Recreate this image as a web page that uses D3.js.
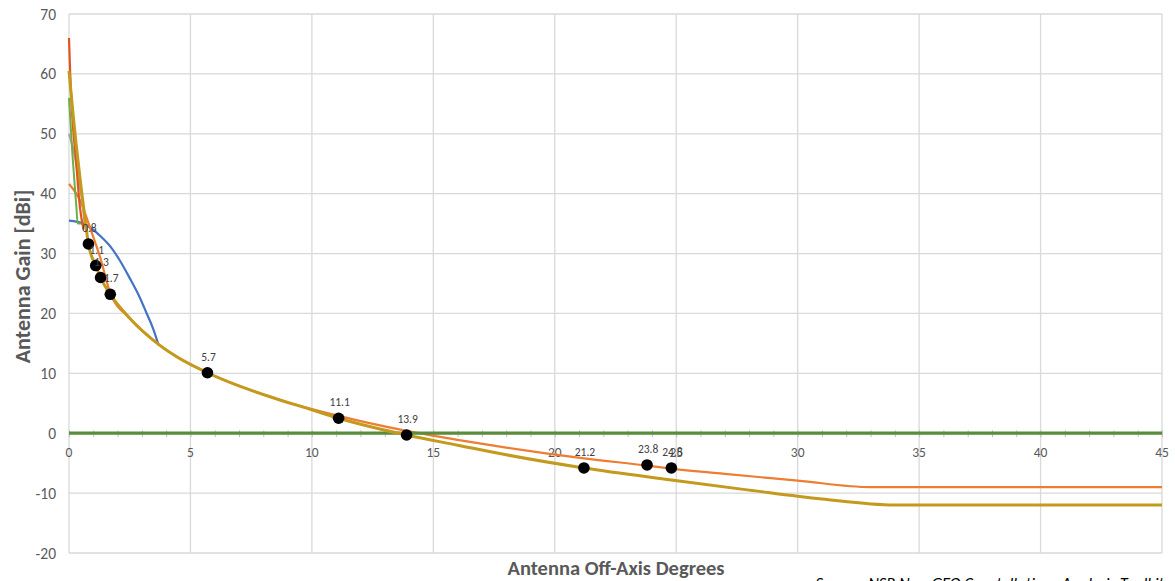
<!DOCTYPE html>
<html>
<head>
<meta charset="utf-8">
<script src="https://cdn.jsdelivr.net/npm/d3@7"></script>
<style>
  body { margin: 0; background: #fff; }
  svg { display: block; font-family: Calibri, Carlito, Lato, "Open Sans", sans-serif; }
</style>
</head>
<body>
<svg id="chart" width="1175" height="581"></svg>
<script>
// values (off-axis angle in degrees, gain in dBi)
const xTicks = [0, 5, 10, 15, 20, 25, 30, 35, 40, 45];
const yTicks = [-20, -10, 0, 10, 20, 30, 40, 50, 60, 70];

const redTheta = [0, 0.05, 0.12, 0.3, 0.45, 0.6];
const redGain = [66, 60, 54, 45, 37.7, 34];

const grayTheta = [0, 0.25, 0.45, 0.54, 0.66];
const grayGain = [50, 46, 41, 38.9, 34.4];

const greenTheta = [0, 0.15, 0.3, 0.36, 0.55];
const greenGain = [56, 46, 38, 35, 35];

const blueTheta = [0, 0.6, 1.3, 1.7, 2.1, 2.5, 2.9, 3.2, 3.45, 3.7];
const blueGain = [35.5, 35.0, 32.9, 31.2, 28.8, 25.9, 22.8, 20.0, 17.6, 14.6];

const orangeTheta = [0, 0.45, 0.86, 1.28, 1.7, 2.5, 3.7, 5.7, 8.5, 11.1, 13.9, 16, 18, 21.2, 23.8, 24.8, 27, 30, 33, 45];
const orangeGain = [41.6, 38.9, 34.4, 29.4, 23.4, 19.2, 14.8, 10.1, 5.8, 2.9, 0.4, -1.1, -2.4, -4.2, -5.4, -5.9, -6.8, -7.9, -9.0, -9.0];

const goldTheta = [0, 0.15, 0.3, 0.5, 0.7, 0.8, 1.1, 1.3, 1.7, 2.5, 3.7, 4.5, 5.7, 7, 8.5, 10, 11.1, 12.5, 13.9, 16, 18, 21.2, 24.8, 28, 31, 34, 45];
const goldGain = [60.5, 54, 48, 41, 34.5, 31.6, 28.0, 26.0, 23.2, 19.2, 14.8, 12.6, 10.1, 7.9, 5.8, 3.9, 2.5, 1.0, -0.3, -2.0, -3.6, -5.8, -7.8, -9.5, -11.0, -12.0, -12.0];

const zeroTheta = [0, 45];
const zeroGain = [0, 0];

const dotTheta = [0.8, 1.1, 1.3, 1.7, 5.7, 11.1, 13.9, 21.2, 23.8, 24.8];
const dotGain = [31.6, 28.0, 26.0, 23.2, 10.1, 2.5, -0.3, -5.8, -5.3, -5.8];
const dotLabels = ["0.8", "1.1", "1.3", "1.7", "5.7", "11.1", "13.9", "21.2", "23.8", "24.8"];

const margin = { top: 14, right: 13, bottom: 28, left: 69 };
const width = 1175, height = 581;

const svg = d3.select("#chart");

const x = d3.scaleLinear().domain([0, 45]).range([margin.left, width - margin.right]);
const y = d3.scaleLinear().domain([-20, 70]).range([height - margin.bottom, margin.top]);

// gridlines
svg.append("g")
  .selectAll("line")
  .data(xTicks)
  .join("line")
  .attr("x1", d => x(d)).attr("x2", d => x(d))
  .attr("y1", y(70)).attr("y2", y(-20))
  .attr("stroke", "#d9d9d9")
  .attr("stroke-width", 1.3);

svg.append("g")
  .selectAll("line")
  .data(yTicks)
  .join("line")
  .attr("x1", x(0)).attr("x2", x(45))
  .attr("y1", d => y(d)).attr("y2", d => y(d))
  .attr("stroke", "#d9d9d9")
  .attr("stroke-width", 1.3);

// y axis labels
svg.append("g")
  .selectAll("text")
  .data(yTicks)
  .join("text")
  .attr("x", margin.left - 13)
  .attr("y", d => y(d) + 5.5)
  .attr("text-anchor", "end")
  .attr("fill", "#595959")
  .style("font-size", "15.5px")
  .text(d => d);

// x axis sits on 0 with minor ticks every degree
const xAxis = d3.axisBottom(x)
  .tickValues(d3.range(0, 46, 1))
  .tickSize(0)
  .tickFormat("");
const axisG = svg.append("g")
  .attr("transform", `translate(0,${y(0)})`)
  .call(xAxis);
axisG.select(".domain").attr("stroke", "#bfbfbf");
axisG.selectAll(".tick line")
  .attr("y1", -3).attr("y2", 4)
  .attr("stroke", "#bfbfbf");

svg.append("g")
  .selectAll("text")
  .data(xTicks)
  .join("text")
  .attr("x", d => x(d))
  .attr("y", y(0) + 24)
  .attr("text-anchor", "middle")
  .attr("fill", "#595959")
  .style("font-size", "13.5px")
  .text(d => d);

// series
const line = d3.line()
  .x(d => x(d[0]))
  .y(d => y(d[1]))
  .curve(d3.curveMonotoneX);

function drawSeries(thetas, gains, color, w) {
  svg.append("path")
    .datum(d3.zip(thetas, gains))
    .attr("d", line)
    .attr("fill", "none")
    .attr("stroke", color)
    .attr("stroke-width", w)
    .attr("stroke-linejoin", "round");
}

drawSeries(blueTheta, blueGain, "#4472c4", 2.2);
drawSeries(orangeTheta, orangeGain, "#ed7d31", 2.2);
drawSeries(grayTheta, grayGain, "#a5a5a5", 2.2);
drawSeries(greenTheta, greenGain, "#70ad47", 2);
drawSeries(redTheta, redGain, "#e2541c", 2.2);
drawSeries(zeroTheta, zeroGain, "#5b8c3c", 3.2);
drawSeries(goldTheta, goldGain, "#c39a1d", 3);

// highlighted points
const dots = d3.zip(dotTheta, dotGain, dotLabels);
svg.append("g")
  .selectAll("circle")
  .data(dots)
  .join("circle")
  .attr("cx", d => x(d[0]))
  .attr("cy", d => y(d[1]))
  .attr("r", 5.8)
  .attr("fill", "#000");

svg.append("g")
  .selectAll("text")
  .data(dots)
  .join("text")
  .attr("x", d => x(d[0]) + 1)
  .attr("y", d => y(d[1]) - 12)
  .attr("text-anchor", "middle")
  .attr("fill", "#404040")
  .style("font-size", "11.5px")
  .text(d => d[2]);

// axis titles
svg.append("text")
  .attr("transform", `translate(30,${(margin.top + height - margin.bottom) / 2 - 7}) rotate(-90)`)
  .attr("text-anchor", "middle")
  .attr("fill", "#595959")
  .style("font-size", "22px")
  .style("font-weight", "bold")
  .text("Antenna Gain [dBi]");

svg.append("text")
  .attr("x", 616)
  .attr("y", 575)
  .attr("text-anchor", "middle")
  .attr("fill", "#595959")
  .style("font-size", "20.5px")
  .style("font-weight", "bold")
  .text("Antenna Off-Axis Degrees");

svg.append("text")
  .attr("x", 1164)
  .attr("y", 589)
  .attr("text-anchor", "end")
  .attr("fill", "#000")
  .style("font-size", "16.5px")
  .style("font-style", "italic")
  .text("Source: NSR Non-GEO Constellations Analysis Toolkit");
</script>
</body>
</html>
